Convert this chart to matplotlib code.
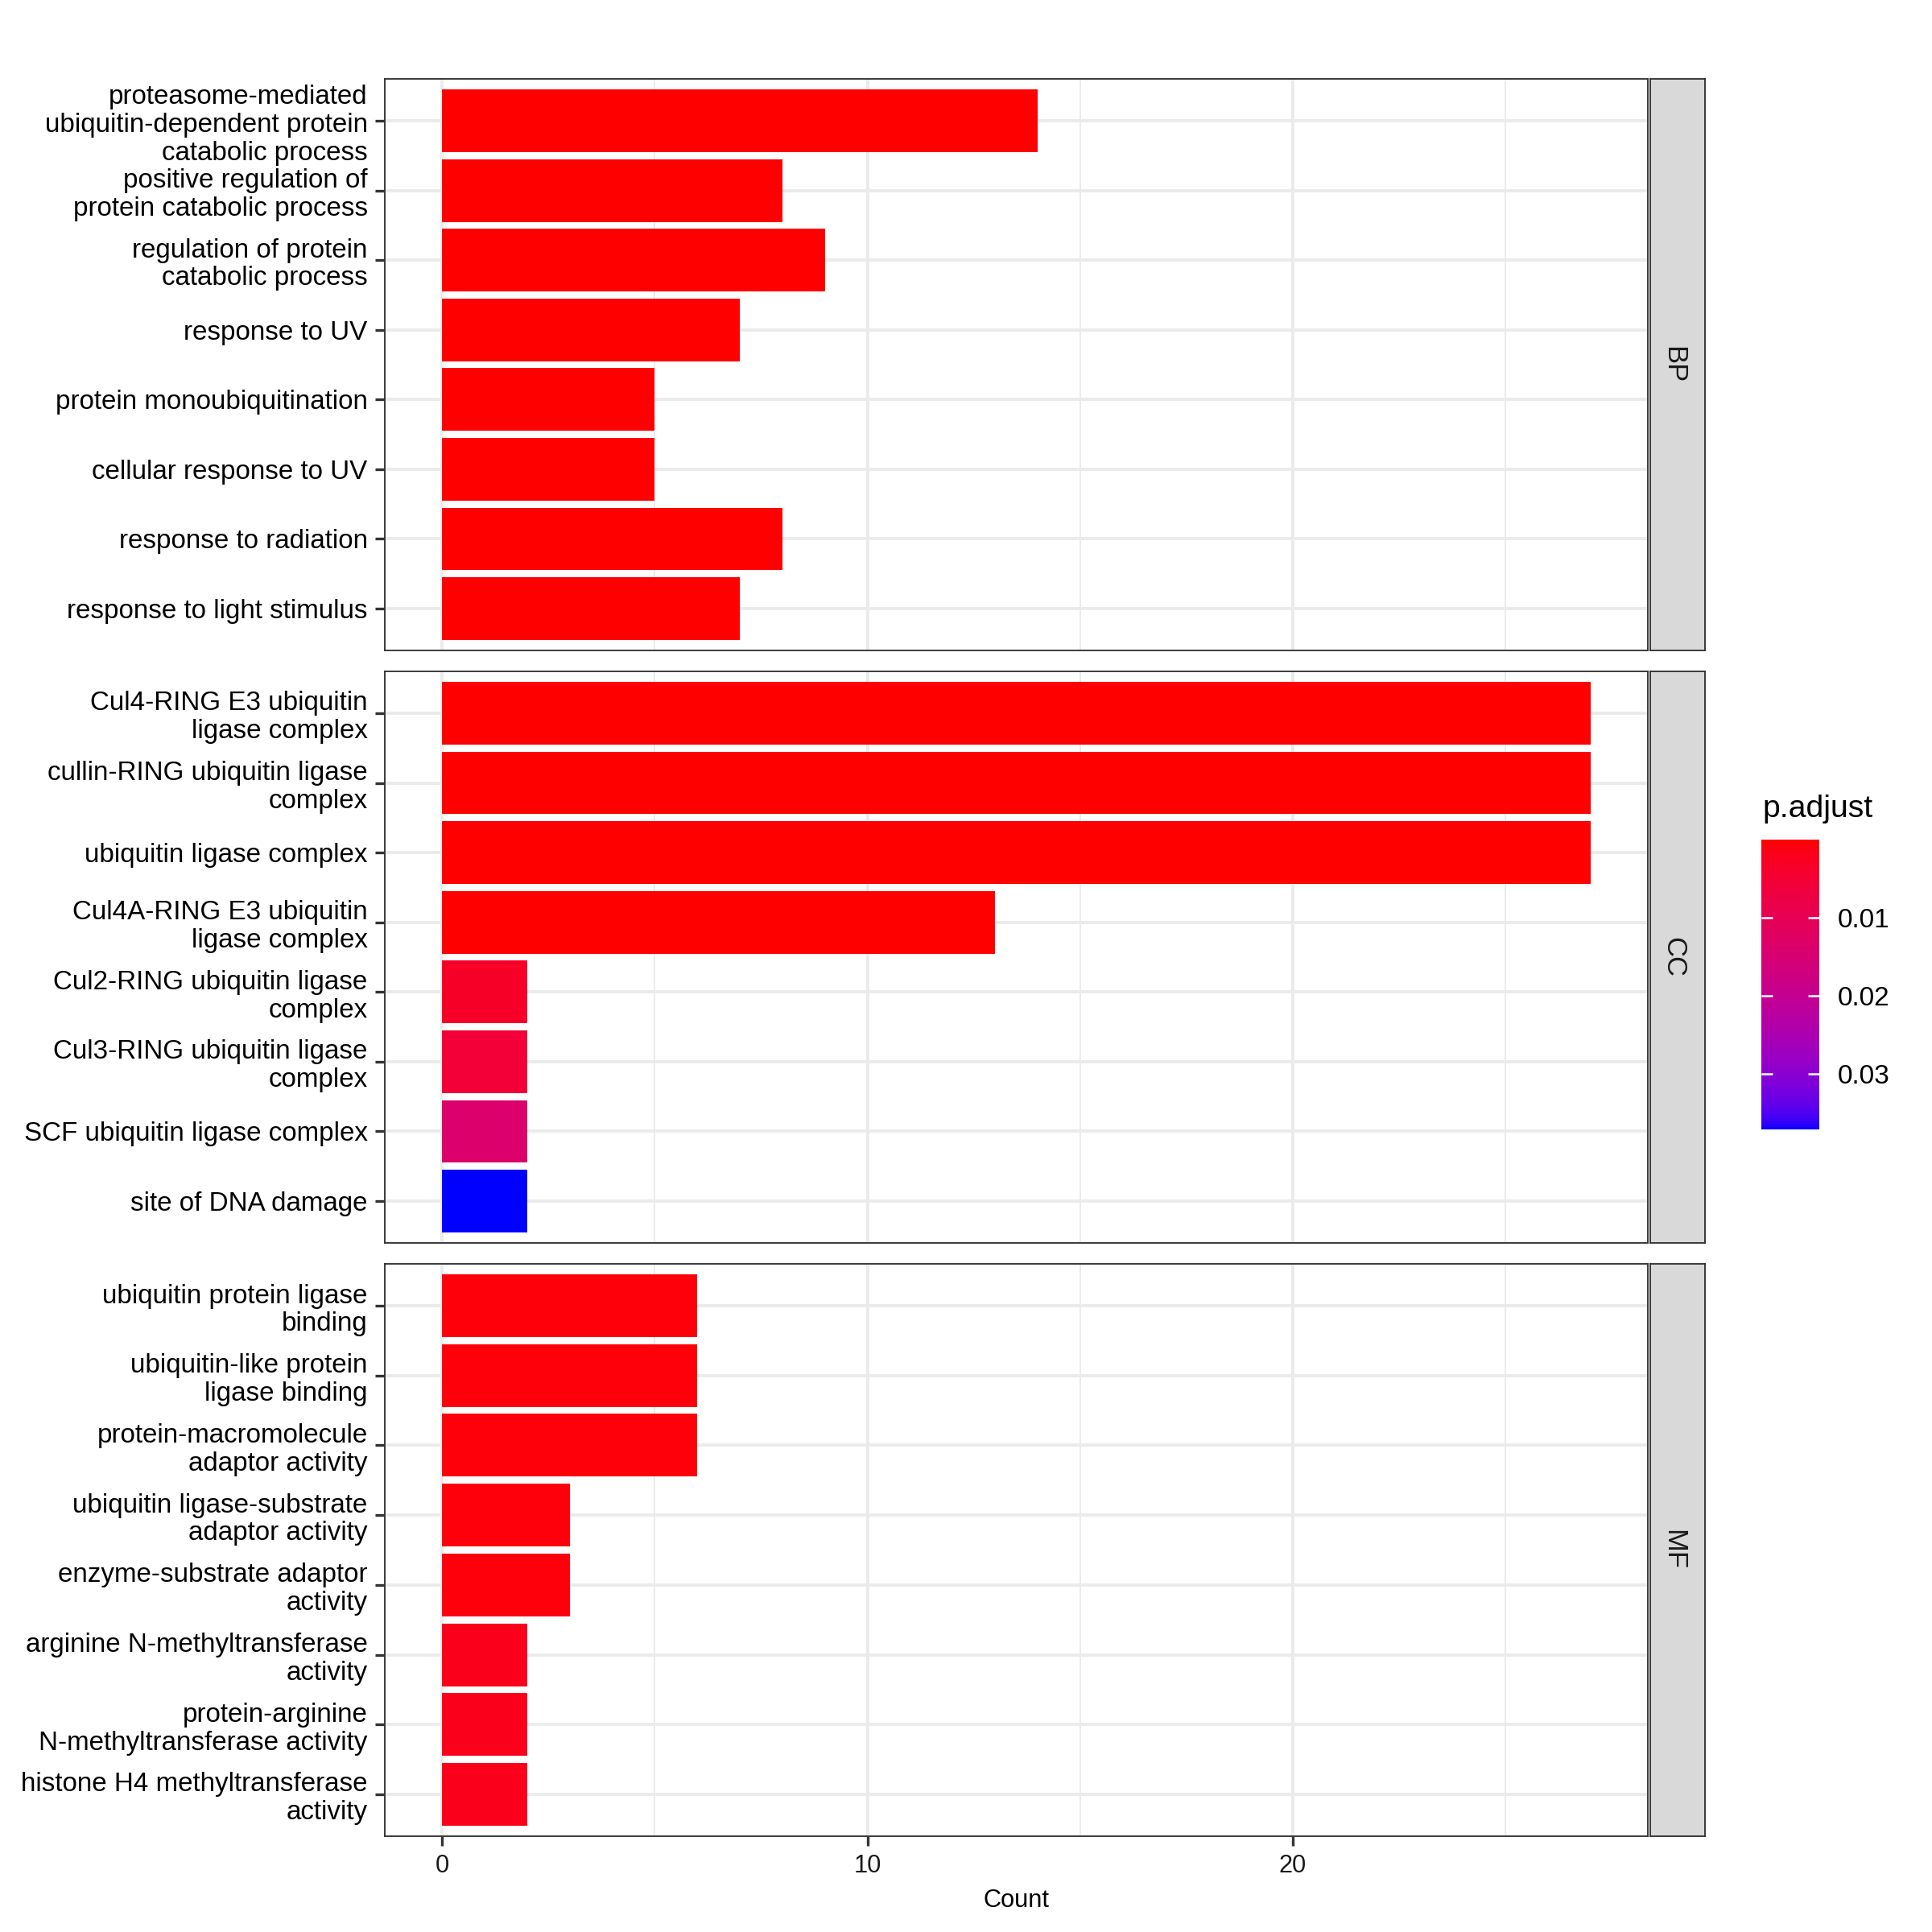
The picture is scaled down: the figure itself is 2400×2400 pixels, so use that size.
import numpy as np
import matplotlib
matplotlib.use("Agg")
import matplotlib.pyplot as plt
from matplotlib.colors import ListedColormap, Normalize
from matplotlib.cm import ScalarMappable

plt.rcParams['font.family'] = ['Liberation Sans', 'DejaVu Sans']

# ---------------- data ----------------
facets = ["BP", "CC", "MF"]

bp_terms = ["proteasome-mediated\nubiquitin-dependent protein\ncatabolic process",
            "positive regulation of\nprotein catabolic process",
            "regulation of protein\ncatabolic process",
            "response to UV",
            "protein monoubiquitination",
            "cellular response to UV",
            "response to radiation",
            "response to light stimulus"]
bp_count = [14, 8, 9, 7, 5, 5, 8, 7]
bp_padj = [1e-9, 2e-8, 1e-8, 5e-8, 1e-7, 1e-7, 3e-8, 6e-8]

cc_terms = ["Cul4-RING E3 ubiquitin\nligase complex",
            "cullin-RING ubiquitin ligase\ncomplex",
            "ubiquitin ligase complex",
            "Cul4A-RING E3 ubiquitin\nligase complex",
            "Cul2-RING ubiquitin ligase\ncomplex",
            "Cul3-RING ubiquitin ligase\ncomplex",
            "SCF ubiquitin ligase complex",
            "site of DNA damage"]
cc_count = [27, 27, 27, 13, 2, 2, 2, 2]
cc_padj = [1e-12, 1e-12, 1e-12, 5e-9, 0.0035, 0.0056, 0.0137, 0.0371]

mf_terms = ["ubiquitin protein ligase\nbinding",
            "ubiquitin-like protein\nligase binding",
            "protein-macromolecule\nadaptor activity",
            "ubiquitin ligase-substrate\nadaptor activity",
            "enzyme-substrate adaptor\nactivity",
            "arginine N-methyltransferase\nactivity",
            "protein-arginine\nN-methyltransferase activity",
            "histone H4 methyltransferase\nactivity"]
mf_count = [6, 6, 6, 3, 3, 2, 2, 2]
mf_padj = [0.0006, 0.0006, 0.0007, 0.0008, 0.0008, 0.0019, 0.0019, 0.0019]

x_ticks = [0, 10, 20]
cbar_ticks = [0.01, 0.02, 0.03]

# ---------------- Lab gradient (red -> blue) ----------------
def srgb_to_lab(rgb):
    rgb = np.asarray(rgb, float)
    lin = np.where(rgb <= 0.04045, rgb / 12.92, ((rgb + 0.055) / 1.055) ** 2.4)
    M = np.array([[0.4124564, 0.3575761, 0.1804375],
                  [0.2126729, 0.7151522, 0.0721750],
                  [0.0193339, 0.1191920, 0.9503041]])
    xyz = M @ lin
    wp = np.array([0.95047, 1.0, 1.08883])
    t = xyz / wp
    f = np.where(t > (6 / 29) ** 3, np.cbrt(t), t / (3 * (6 / 29) ** 2) + 4 / 29)
    return np.array([116 * f[1] - 16, 500 * (f[0] - f[1]), 200 * (f[1] - f[2])])

def lab_to_srgb(lab):
    L, a, b = lab
    fy_ = (L + 16) / 116
    fx_ = fy_ + a / 500
    fz_ = fy_ - b / 200
    def finv(f):
        return np.where(f > 6 / 29, f ** 3, 3 * (6 / 29) ** 2 * (f - 4 / 29))
    wp = np.array([0.95047, 1.0, 1.08883])
    xyz = np.array([finv(fx_), finv(fy_), finv(fz_)]) * wp
    Minv = np.array([[3.2404542, -1.5371385, -0.4985314],
                     [-0.9692660, 1.8760108, 0.0415560],
                     [0.0556434, -0.2040259, 1.0572252]])
    lin = np.clip(Minv @ xyz, 0, 1)
    srgb = np.where(lin <= 0.0031308, 12.92 * lin, 1.055 * lin ** (1 / 2.4) - 0.055)
    return np.clip(srgb, 0, 1)

lab_r = srgb_to_lab([1, 0, 0])
lab_b = srgb_to_lab([0, 0, 1])
cols = [lab_to_srgb(lab_r + (lab_b - lab_r) * t) for t in np.linspace(0, 1, 256)]
cmap = ListedColormap(cols)

all_p = bp_padj + cc_padj + mf_padj
norm = Normalize(vmin=min(all_p), vmax=max(all_p))

# ---------------- figure ----------------
W = 2400.0
fig = plt.figure(figsize=(8, 8), dpi=300)

def fx(px):
    return px / W

def fy(px):
    return 1 - px / W

left, right = 478, 2047
strip_l, strip_r = 2050, 2118
panels = [(98, 808), (834, 1544), (1570, 2281)]
data = [(bp_terms, bp_count, bp_padj), (cc_terms, cc_count, cc_padj), (mf_terms, mf_count, mf_padj)]

border_c = "#333333"
grid_c = "#EBEBEB"

for i, ((top, bot), (terms, counts, padj), fac) in enumerate(zip(panels, data, facets)):
    ax = fig.add_axes([fx(left), fy(bot), fx(right) - fx(left), fy(top) - fy(bot)])
    n = len(terms)
    ypos = np.arange(n, 0, -1)
    ax.barh(ypos, counts, height=0.9, color=cmap(norm(np.array(padj))), zorder=3, linewidth=0)
    ax.set_xlim(-1.35, 28.35)
    ax.set_ylim(0.4, n + 0.6)
    ax.set_yticks(ypos)
    ax.set_yticklabels(terms, fontsize=7.95, color="black", linespacing=1.16,
                       multialignment='right')
    ax.set_xticks(x_ticks)
    ax.set_xticks([5, 15, 25], minor=True)
    ax.tick_params(axis='y', length=2.9, width=0.8, color=border_c, pad=2.2)
    ax.tick_params(axis='x', which='major', length=2.9, width=0.8, color=border_c, pad=2.5,
                   labelsize=7.4, labelcolor="#1A1A1A")
    ax.tick_params(axis='x', which='minor', length=0)
    ax.grid(True, which='major', color=grid_c, linewidth=0.95, zorder=0)
    ax.grid(True, which='minor', axis='x', color=grid_c, linewidth=0.48, zorder=0)
    ax.set_axisbelow(True)
    for s in ax.spines.values():
        s.set_color(border_c)
        s.set_linewidth(0.45)
        s.set_zorder(5)
    if i < 2:
        ax.tick_params(axis='x', which='both', bottom=False, labelbottom=False)

    sax = fig.add_axes([fx(strip_l), fy(bot), fx(strip_r) - fx(strip_l), fy(top) - fy(bot)])
    sax.set_facecolor("#D9D9D9")
    sax.set_xticks([])
    sax.set_yticks([])
    for s in sax.spines.values():
        s.set_color(border_c)
        s.set_linewidth(0.45)
    sax.text(0.42, 0.5, fac, rotation=-90, ha='center', va='center', fontsize=8.3,
             color="#1A1A1A", transform=sax.transAxes)

fig.text((fx(left) + fx(right)) / 2, fy(2369), "Count", ha='center', va='baseline',
         fontsize=7.4, color="black")

# ---------------- colorbar legend ----------------
fig.text(fx(2189), fy(1015), "p.adjust", ha='left', va='baseline', fontsize=9.4, color="black")
cax = fig.add_axes([fx(2188), fy(1403), fx(2260) - fx(2188), fy(1043) - fy(1403)])
sm = ScalarMappable(norm=norm, cmap=cmap)
cb = fig.colorbar(sm, cax=cax)
cb.outline.set_visible(False)
cb.set_ticks(cbar_ticks)
cb.set_ticklabels(["0.01", "0.02", "0.03"])
cax.invert_yaxis()
cax.tick_params(axis='y', which='both', direction='in', left=True, right=True,
                length=3.4, width=0.6, color='white', labelcolor='black',
                labelsize=8.0, pad=5.5)
cax.minorticks_off()

fig.savefig("out.png", dpi=300, facecolor="white")
